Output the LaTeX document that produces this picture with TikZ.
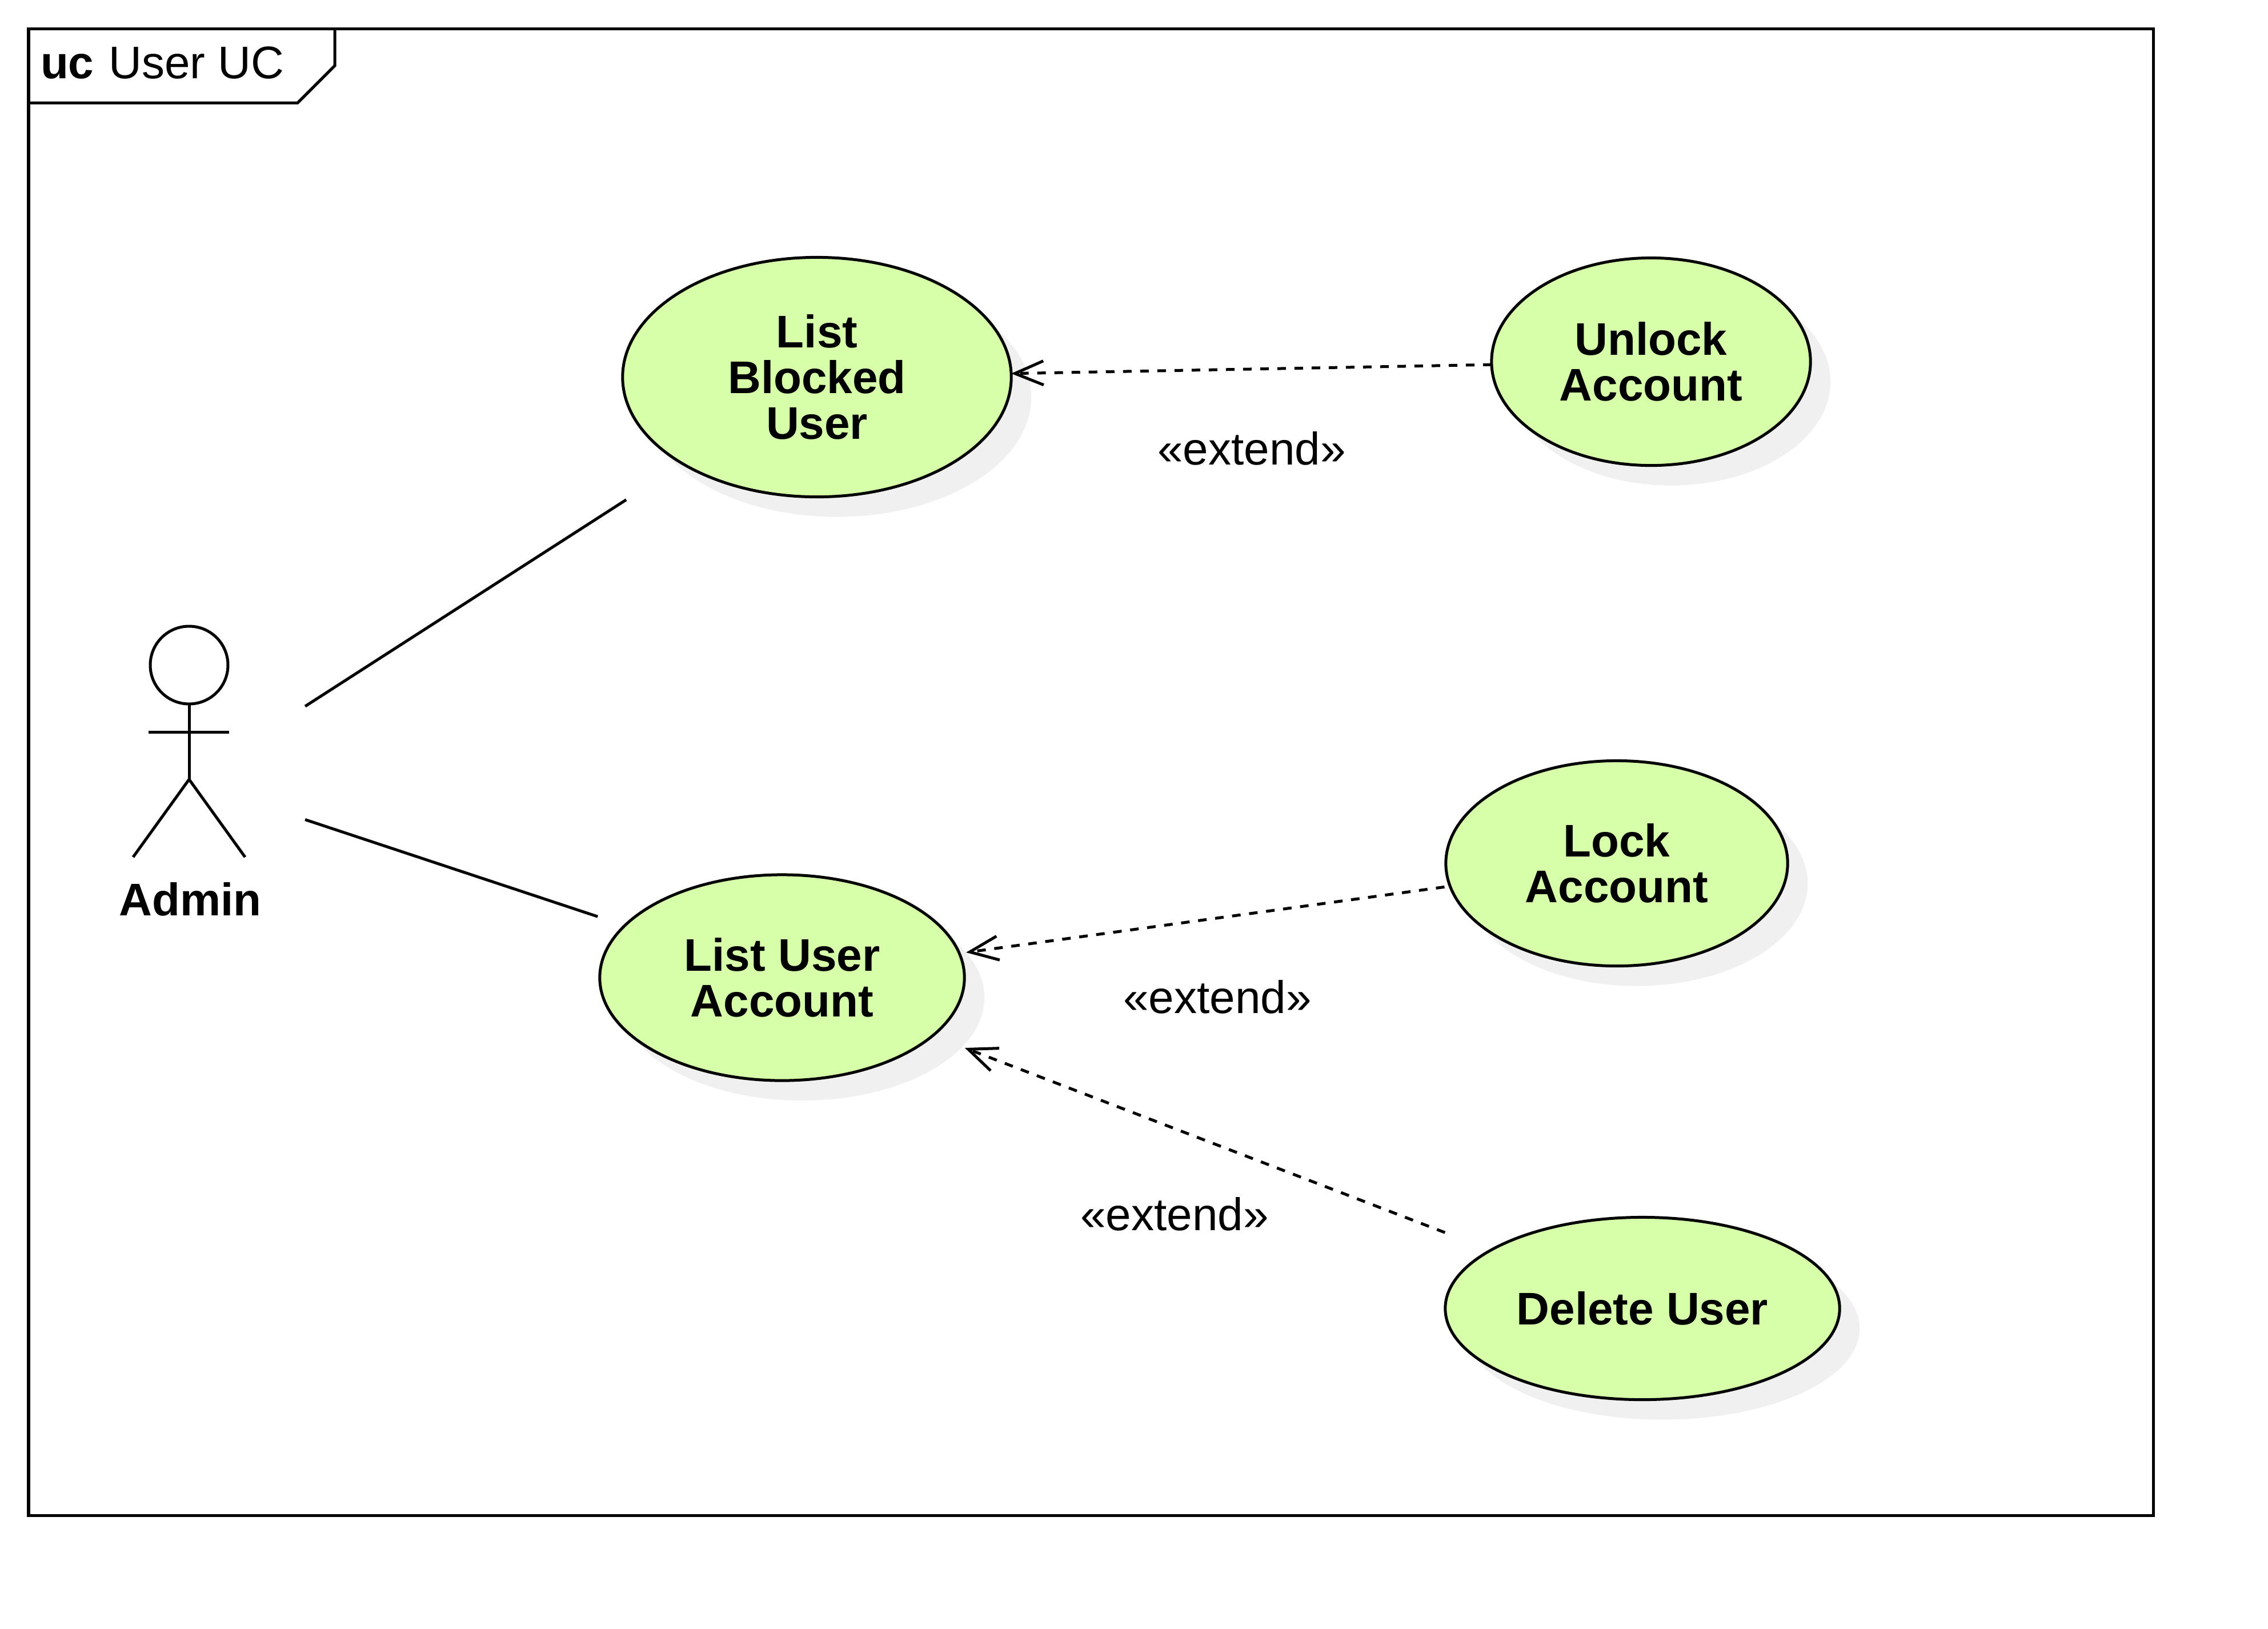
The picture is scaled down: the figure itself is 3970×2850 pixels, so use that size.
\documentclass[tikz,border=0pt]{standalone}
\usepackage{fontspec}
\setmainfont{Liberation Sans}
\usetikzlibrary{arrows.meta,shapes.geometric,shadows}
\begin{document}
\begin{tikzpicture}[x=0.01cm, y=0.01cm]
    \tikzstyle{every node}+=[inner sep=0pt, outer sep=0pt, font=\fontsize{22.76}{22.76}\selectfont]
    \tikzstyle{usecase}=[ellipse, draw=black, line width=0.05cm, fill=usecasegreen, align=center, font=\fontsize{22.76}{22.76}\selectfont\bfseries, drop shadow={shadow xshift=0.35cm, shadow yshift=-0.35cm, fill=shadowgray, opacity=1}]
    \tikzstyle{assoc}=[black, line width=0.05cm]
    \tikzstyle{extendarrow}=[black, line width=0.05cm, dash pattern=on 0.15cm off 0.15cm, -{Straight Barb[length=0.50cm, width=0.42cm]}]
    \definecolor{usecasegreen}{HTML}{D7FFAA}
    \definecolor{shadowgray}{HTML}{F0F0F0}
    \useasboundingbox (0,0) rectangle (3970,-2850);
    \draw [black, line width=0.05cm] (50,-50) rectangle (3769,-2652);
    \draw [black, line width=0.05cm] (50,-180) -- (521,-180) -- (586,-115) -- (586,-50);
    \node (frametitle) [anchor=base west] at (71,-137) {\textbf{uc}\hspace{0.04cm} User UC};
    \node (admin) [minimum width=4.08cm, minimum height=5.58cm] at (330,-1367) {};
    \draw [black, line width=0.05cm] (331,-1164) circle (68);
    \draw [black, line width=0.05cm] (331,-1232) -- (331,-1364);
    \draw [black, line width=0.05cm] (260,-1281) -- (401,-1281);
    \draw [black, line width=0.05cm] (233,-1500) -- (331,-1364) -- (429,-1500);
    \node (adminlabel) [anchor=base, font=\fontsize{22.76}{22.76}\selectfont\bfseries] at (333,-1602) {Admin};
    \node (listblocked) [usecase, minimum width=6.80cm, minimum height=4.19cm] at (1430,-660) {List\\Blocked\\User};
    \node (unlock) [usecase, minimum width=5.58cm, minimum height=3.63cm] at (2890,-633) {Unlock\\Account};
    \node (lock) [usecase, minimum width=5.98cm, minimum height=3.59cm] at (2830,-1511) {Lock\\Account};
    \node (listuser) [usecase, minimum width=6.38cm, minimum height=3.60cm] at (1369,-1711) {List User\\Account};
    \node (delete) [usecase, minimum width=6.90cm, minimum height=3.19cm] at (2875,-2290) {Delete User};
    \draw [assoc, shorten >=1.17cm] (admin) -- (listblocked);
    \draw [assoc, shorten >=0.50cm] (admin) -- (listuser);
    \draw [extendarrow] (unlock) -- (listblocked);
    \draw [extendarrow, shorten <=0.10cm, shorten >=0.12cm] (lock) -- (listuser);
    \draw [extendarrow, shorten <=0.86cm, shorten >=0.60cm] (delete) -- (listuser);
    \node (extendone) at (2191,-785) {«extend»};
    \node (extendtwo) at (2131,-1745) {«extend»};
    \node (extendthree) at (2056,-2125) {«extend»};
\end{tikzpicture}
\end{document}
